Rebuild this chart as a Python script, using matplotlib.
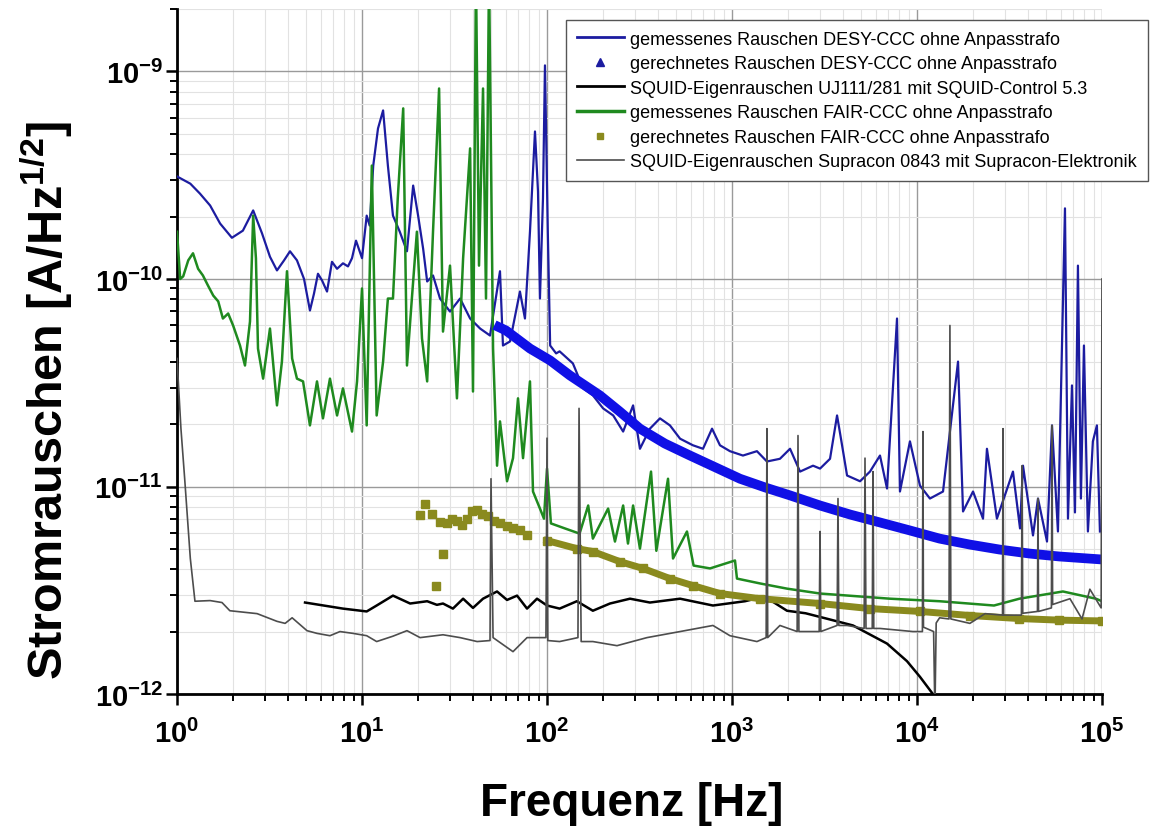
import matplotlib
matplotlib.use("Agg")
import matplotlib.pyplot as plt
from matplotlib.lines import Line2D
from matplotlib.ticker import LogLocator, NullFormatter, FuncFormatter
import numpy as np

plt.rcParams['font.family'] = ['Liberation Sans', 'DejaVu Sans']
plt.rcParams['mathtext.fontset'] = 'custom'
plt.rcParams['mathtext.rm'] = 'Liberation Sans:bold'
plt.rcParams['mathtext.bf'] = 'Liberation Sans:bold'
plt.rcParams['mathtext.it'] = 'Liberation Sans:bold:italic'
plt.rcParams['mathtext.default'] = 'rm'

# gemessenes Rauschen DESY-CCC
desy_f = [1, 1.18, 1.33, 1.51, 1.71, 1.98, 2.27, 2.58, 2.88, 3.18, 3.47, 3.79, 4.08, 4.45,
          4.86, 5.23, 5.5, 5.78, 6.08, 6.47, 6.88, 7.33, 7.89, 8.4, 8.83, 9.28, 10, 10.6,
          11.0, 11.5, 12.2, 13.0, 13.8, 14.7, 16.0, 17.5, 18.9, 20.1, 21.4, 22.5, 24.2,
          26.4, 29.9, 33.9, 38.4, 43.5, 49.2, 55.7, 57.8, 63.1, 71.4, 76.0, 80.9, 86.1,
          89.4, 91.6, 95.1, 97.5, 101, 104, 112, 117, 138, 157, 177, 201, 228, 258, 292,
          318, 360, 408, 462, 524, 615, 697, 780, 861, 975, 1146, 1364, 1545, 1816, 2060,
          2333, 2742, 2992, 3388, 3698, 3936, 4188, 4922, 5572, 6310, 6887, 7800, 8090,
          9162, 10380, 11750, 13830, 16670, 17740, 20090, 22750, 23890, 27050, 33030,
          36060, 37420, 42380, 45100, 50450, 53700, 57810, 63100, 65500, 68850, 71450,
          74150, 76950, 79900, 83950, 89300, 93900, 97500]
desy_v = [3.12e-10, 2.88e-10, 2.58e-10, 2.26e-10, 1.85e-10, 1.58e-10, 1.71e-10, 2.14e-10,
          1.66e-10, 1.28e-10, 1.10e-10, 1.23e-10, 1.36e-10, 1.23e-10, 1.0e-10, 7.05e-11,
          8.5e-11, 1.06e-10, 9.84e-11, 8.7e-11, 1.21e-10, 1.12e-10, 1.19e-10, 1.15e-10,
          1.26e-10, 1.53e-10, 1.26e-10, 2.02e-10, 1.81e-10, 3.52e-10, 5.31e-10, 6.49e-10,
          3.52e-10, 2.02e-10, 1.69e-10, 1.36e-10, 2.82e-10, 2.02e-10, 1.40e-10, 9.73e-11,
          1.04e-10, 8.05e-11, 6.97e-11, 8.05e-11, 6.45e-11, 5.77e-11, 5.34e-11, 1.09e-10,
          4.78e-11, 5.0e-11, 8.7e-11, 6.45e-11, 1.69e-10, 5.14e-10, 2.64e-10, 8.05e-11,
          2.44e-10, 1.07e-9, 1.69e-10, 4.78e-11, 4.38e-11, 4.48e-11, 3.92e-11, 2.97e-11,
          2.75e-11, 2.38e-11, 2.2e-11, 1.84e-11, 2.46e-11, 1.52e-11, 1.9e-11, 2.13e-11,
          1.97e-11, 1.70e-11, 1.58e-11, 1.52e-11, 1.9e-11, 1.58e-11, 1.48e-11, 1.41e-11,
          1.48e-11, 1.32e-11, 1.36e-11, 1.52e-11, 1.18e-11, 1.26e-11, 1.22e-11, 1.36e-11,
          2.2e-11, 1.58e-11, 1.13e-11, 1.06e-11, 1.18e-11, 1.41e-11, 9.78e-12, 6.45e-11,
          9.46e-12, 1.65e-11, 1.01e-11, 8.75e-12, 9.46e-12, 4.0e-11, 7.58e-12, 9.46e-12,
          7.0e-12, 1.52e-11, 7.0e-12, 1.18e-11, 6.28e-12, 1.26e-11, 5.81e-12, 8.75e-12,
          5.43e-12, 1.97e-11, 6.07e-12, 2.19e-10, 7.0e-12, 3.07e-11, 7.5e-12, 1.16e-10,
          8.75e-12, 4.78e-11, 6.07e-12, 1.65e-11, 1.97e-11, 6.07e-12]

# gerechnetes Rauschen DESY-CCC
desy_calc_f = [52, 60, 81, 104, 133, 193, 247, 318, 434, 593, 809, 1105, 1508, 2060, 2992,
               4345, 6310, 9162, 13250, 19320, 27900, 40800, 58900, 100000]
desy_calc_v = [6.0e-11, 5.65e-11, 4.62e-11, 4.05e-11, 3.43e-11, 2.75e-11, 2.3e-11, 1.9e-11,
               1.61e-11, 1.41e-11, 1.24e-11, 1.09e-11, 9.9e-12, 9.06e-12, 8.1e-12, 7.33e-12,
               6.71e-12, 6.14e-12, 5.61e-12, 5.25e-12, 4.97e-12, 4.75e-12, 4.6e-12, 4.45e-12]

# SQUID-Eigenrauschen UJ111/281
uj_f = [4.92, 7.89, 10.6, 12.0, 14.7, 18.2, 22.5, 25.4, 27.4, 31.0, 35.2, 39.8, 45.1, 53.7,
        60.8, 68.9, 78.0, 88.3, 100, 117, 145, 177, 219, 281, 360, 524, 789, 1175, 1500,
        1983, 2500, 3300, 4508, 6887, 8830, 10380, 12190, 12500]
uj_v = [2.76e-12, 2.58e-12, 2.5e-12, 2.67e-12, 2.98e-12, 2.73e-12, 2.8e-12, 2.69e-12,
        2.73e-12, 2.58e-12, 2.88e-12, 2.6e-12, 2.88e-12, 3.12e-12, 2.84e-12, 2.98e-12,
        2.58e-12, 2.88e-12, 2.67e-12, 2.58e-12, 2.8e-12, 2.52e-12, 2.73e-12, 2.88e-12,
        2.76e-12, 2.88e-12, 2.67e-12, 2.8e-12, 2.95e-12, 2.52e-12, 2.45e-12, 2.3e-12,
        2.14e-12, 1.75e-12, 1.44e-12, 1.21e-12, 1.0e-12, 9.0e-13]

# gemessenes Rauschen FAIR-CCC
fair_f = [1, 1.04, 1.08, 1.15, 1.22, 1.30, 1.38, 1.47, 1.57, 1.67, 1.77, 1.89, 2.01, 2.19,
          2.33, 2.48, 2.58, 2.67, 2.74, 2.92, 3.18, 3.47, 3.69, 3.93, 4.19, 4.45, 4.8, 5.23,
          5.71, 6.15, 6.71, 7.33, 7.89, 8.83, 9.4, 10.0, 10.6, 11.3, 12.0, 13.0, 13.8, 14.7,
          15.6, 16.7, 17.5, 18.6, 19.8, 21.1, 22.5, 24.2, 26.1, 27.4, 29.9, 32.6, 35.2,
          38.4, 39.8, 41.3, 42.9, 45.1, 46.8, 48.6, 51.1, 53.7, 55.7, 60.8, 65.5, 69.7,
          74.2, 80.9, 84.0, 91.6, 96.3, 100, 105, 125, 150, 167, 177, 214, 233, 258, 274,
          292, 318, 365, 390, 451, 480, 571, 620, 761, 1038, 1064, 1420, 1983, 2992, 7145,
          13250, 26080, 35800, 61500, 92700, 100000]
fair_v = [1.69e-10, 1.0e-10, 1.03e-10, 1.23e-10, 1.33e-10, 1.12e-10, 1.04e-10, 9.3e-11,
          8.32e-11, 7.8e-11, 6.45e-11, 6.82e-11, 5.97e-11, 4.78e-11, 3.83e-11, 6.24e-11,
          2.02e-10, 1.26e-10, 4.62e-11, 3.31e-11, 5.77e-11, 2.46e-11, 4.0e-11, 1.09e-10,
          4.14e-11, 3.31e-11, 3.21e-11, 1.97e-11, 3.21e-11, 2.13e-11, 3.31e-11, 2.2e-11,
          2.97e-11, 1.84e-11, 3.21e-11, 9.0e-11, 1.97e-11, 3.52e-10, 2.2e-11, 4.0e-11,
          8.05e-11, 8.05e-11, 2.44e-10, 6.64e-10, 3.83e-11, 8.05e-11, 1.69e-10, 5.17e-11,
          3.21e-11, 1.69e-10, 8.28e-10, 5.58e-11, 1.16e-10, 2.66e-11, 1.26e-10, 4.26e-10,
          2.87e-11, 3e-9, 1.16e-10, 8.28e-10, 8.05e-11, 3e-9, 4.62e-11, 1.26e-11, 2.06e-11,
          1.06e-11, 1.37e-11, 2.66e-11, 1.37e-11, 3.21e-11, 9.46e-12, 7.83e-12, 7.0e-12,
          1.22e-11, 6.64e-12, 6.28e-12, 5.93e-12, 8.1e-12, 5.61e-12, 7.83e-12, 5.43e-12,
          8.1e-12, 5.31e-12, 8.1e-12, 5.02e-12, 1.18e-11, 4.9e-12, 1.09e-11, 4.5e-12,
          6.07e-12, 4.16e-12, 4.03e-12, 4.4e-12, 3.6e-12, 3.41e-12, 3.22e-12, 3.05e-12,
          2.88e-12, 2.8e-12, 2.67e-12, 2.88e-12, 3.12e-12, 2.88e-12, 2.8e-12]

# gerechnetes Rauschen FAIR-CCC
fair_calc_f = [20.6, 21.9, 23.9, 25.1, 26.4, 27.4, 28.8, 30.6, 32.6, 34.7, 37.0, 39.3, 41.9,
               44.5, 48.0, 51.7, 55.7, 60.8, 65.5, 71.4, 78.0, 100, 145, 177, 247, 330, 462,
               615, 861, 1420, 2992, 5572, 10380, 19320, 35800, 58900, 100000]
fair_calc_v = [7.25e-12, 8.28e-12, 7.41e-12, 3.3e-12, 6.78e-12, 4.75e-12, 6.64e-12, 7.0e-12,
               6.85e-12, 6.49e-12, 7.0e-12, 7.58e-12, 7.7e-12, 7.41e-12, 7.17e-12, 6.85e-12,
               6.64e-12, 6.42e-12, 6.28e-12, 6.14e-12, 5.81e-12, 5.49e-12, 5.02e-12, 4.86e-12,
               4.35e-12, 4.03e-12, 3.6e-12, 3.33e-12, 3.05e-12, 2.88e-12, 2.73e-12, 2.58e-12,
               2.5e-12, 2.39e-12, 2.31e-12, 2.27e-12, 2.25e-12]

# SQUID-Eigenrauschen Supracon 0843
sup_f = [1, 1.05, 1.10, 1.18, 1.25, 1.51, 1.75, 1.93, 2.71, 3.47, 3.84, 4.19, 5.04, 5.71,
         6.71, 7.6, 8.94, 10.6, 12.0, 14.7, 17.5, 20.6, 27.4, 33.9, 41.9, 49.2, 49.8, 51.1,
         65.5, 78.0, 98.7, 100, 101, 117, 147, 149, 153, 177, 239, 347, 524, 789, 975, 1364,
         1530, 1545, 1560, 1816, 2250, 2274, 2300, 2742, 2960, 2992, 3020, 3700, 3741, 3780,
         4188, 5180, 5236, 5300, 5730, 5786, 5840, 6310, 9510, 10700, 10770, 10840, 12300,
         12500, 12700, 13250, 14900, 15070, 15250, 19320, 23330, 29000, 29170, 29400, 36700,
         37000, 37300, 44800, 45100, 45400, 53300, 53700, 54100, 67150, 78000, 86000, 99000,
         100000]
sup_v = [4.14e-11, 1.9e-11, 1.09e-11, 4.5e-12, 2.8e-12, 2.82e-12, 2.76e-12, 2.52e-12,
         2.44e-12, 2.24e-12, 2.19e-12, 2.33e-12, 2.02e-12, 1.96e-12, 1.91e-12, 2.0e-12,
         1.96e-12, 1.91e-12, 1.79e-12, 1.9e-12, 2.02e-12, 1.87e-12, 1.93e-12, 1.87e-12,
         1.79e-12, 1.81e-12, 1.09e-11, 1.87e-12, 1.6e-12, 1.87e-12, 1.87e-12, 1.71e-11,
         1.81e-12, 1.79e-12, 1.87e-12, 2.38e-11, 1.79e-12, 1.79e-12, 1.71e-12, 1.87e-12,
         2.0e-12, 2.14e-12, 1.91e-12, 1.79e-12, 1.87e-12, 1.9e-11, 1.87e-12, 2.14e-12,
         2.0e-12, 1.76e-11, 2.0e-12, 2.0e-12, 2.0e-12, 6.07e-12, 2.0e-12, 2.14e-12, 8.75e-12,
         2.14e-12, 2.14e-12, 2.07e-12, 1.37e-11, 2.07e-12, 2.07e-12, 1.18e-11, 2.07e-12,
         2.07e-12, 2.0e-12, 2.0e-12, 1.84e-11, 2.1e-12, 2.0e-12, 8.0e-13, 2.2e-12, 2.33e-12,
         2.3e-12, 5.97e-11, 2.3e-12, 2.19e-12, 2.44e-12, 2.4e-12, 1.9e-11, 2.4e-12, 2.4e-12,
         1.26e-11, 2.45e-12, 2.5e-12, 8.75e-12, 2.5e-12, 2.6e-12, 1.97e-11, 2.7e-12,
         2.88e-12, 2.3e-12, 3.2e-12, 2.6e-12, 1.0e-10]

labels = ["gemessenes Rauschen DESY-CCC ohne Anpasstrafo",
          "gerechnetes Rauschen DESY-CCC ohne Anpasstrafo",
          "SQUID-Eigenrauschen UJ111/281 mit SQUID-Control 5.3",
          "gemessenes Rauschen FAIR-CCC ohne Anpasstrafo",
          "gerechnetes Rauschen FAIR-CCC ohne Anpasstrafo",
          "SQUID-Eigenrauschen Supracon 0843 mit Supracon-Elektronik"]

x_ticks = [1, 10, 100, 1000, 10000, 100000]
y_ticks = [1e-12, 1e-11, 1e-10, 1e-9]

c_desy = '#1c1ca0'
c_desy_calc = '#1010e6'
c_uj = '#000000'
c_fair = '#1f8a1f'
c_fair_calc = '#8a8a1e'
c_sup = '#4d4d4d'

fig = plt.figure(figsize=(11.51, 8.28), dpi=100)
ax = fig.add_axes([0.1538, 0.1606, 0.8036, 0.8273])

ax.plot(desy_f, desy_v, color=c_desy, lw=1.6, zorder=3)
ax.plot(desy_calc_f, desy_calc_v, color=c_desy_calc, lw=7, solid_capstyle='butt', zorder=4)
ax.plot(uj_f, uj_v, color=c_uj, lw=1.8, zorder=3)
ax.plot(fair_f, fair_v, color=c_fair, lw=1.8, zorder=3)
ax.plot(fair_calc_f[21:], fair_calc_v[21:], color=c_fair_calc, lw=5, zorder=4)
ax.plot(fair_calc_f, fair_calc_v, 's', color=c_fair_calc, ms=6, zorder=4)
ax.plot(sup_f, sup_v, color=c_sup, lw=1.2, zorder=5)

ax.set_xscale('log')
ax.set_yscale('log')
ax.set_xlim(1, 1e5)
ax.set_ylim(1e-12, 2e-9)


def pow_label(v, pos):
    return r'$\mathbf{10^{%d}}$' % int(round(np.log10(v)))


ax.set_xticks(x_ticks)
ax.set_yticks(y_ticks)
ax.xaxis.set_minor_locator(LogLocator(base=10, subs=range(2, 10), numticks=20))
ax.yaxis.set_minor_locator(LogLocator(base=10, subs=range(2, 10), numticks=20))
ax.xaxis.set_major_formatter(FuncFormatter(pow_label))
ax.yaxis.set_major_formatter(FuncFormatter(pow_label))
ax.xaxis.set_minor_formatter(NullFormatter())
ax.yaxis.set_minor_formatter(NullFormatter())

ax.grid(True, which='major', color='#9a9a9a', lw=1.0, zorder=0)
ax.grid(True, which='minor', color='#e2e2e2', lw=0.8, zorder=0)
ax.set_axisbelow(True)

for s in ['top', 'right']:
    ax.spines[s].set_visible(False)
for s in ['left', 'bottom']:
    ax.spines[s].set_linewidth(2)

ax.tick_params(which='major', direction='out', length=8, width=1.8, labelsize=21)
ax.tick_params(axis='x', which='major', pad=10)
ax.tick_params(axis='y', which='major', pad=2)
ax.tick_params(which='minor', direction='out', length=5, width=1.4)

ax.set_xlabel('Frequenz [Hz]', fontsize=33, fontweight='bold')
ax.set_ylabel('Stromrauschen [A/Hz$^{1/2}$]', fontsize=35, fontweight='bold')
ax.xaxis.set_label_coords(0.492, -0.127)
ax.yaxis.set_label_coords(-0.110, 0.43)

handles = [Line2D([], [], color=c_desy, lw=2),
           Line2D([], [], color=c_desy, marker='^', ls='none', ms=6),
           Line2D([], [], color=c_uj, lw=2),
           Line2D([], [], color=c_fair, lw=2.5),
           Line2D([], [], color=c_fair_calc, marker='s', ls='none', ms=5),
           Line2D([], [], color=c_sup, lw=1.2)]
leg = fig.legend(handles, labels, loc='upper right', bbox_to_anchor=(0.997, 0.975),
                 borderaxespad=0, fontsize=13, handlelength=2.6, handletextpad=0.35,
                 labelspacing=0.42, borderpad=0.6, fancybox=False, framealpha=1,
                 edgecolor='#555555')
leg.get_frame().set_linewidth(1.0)

fig.savefig('out.png', dpi=100)
